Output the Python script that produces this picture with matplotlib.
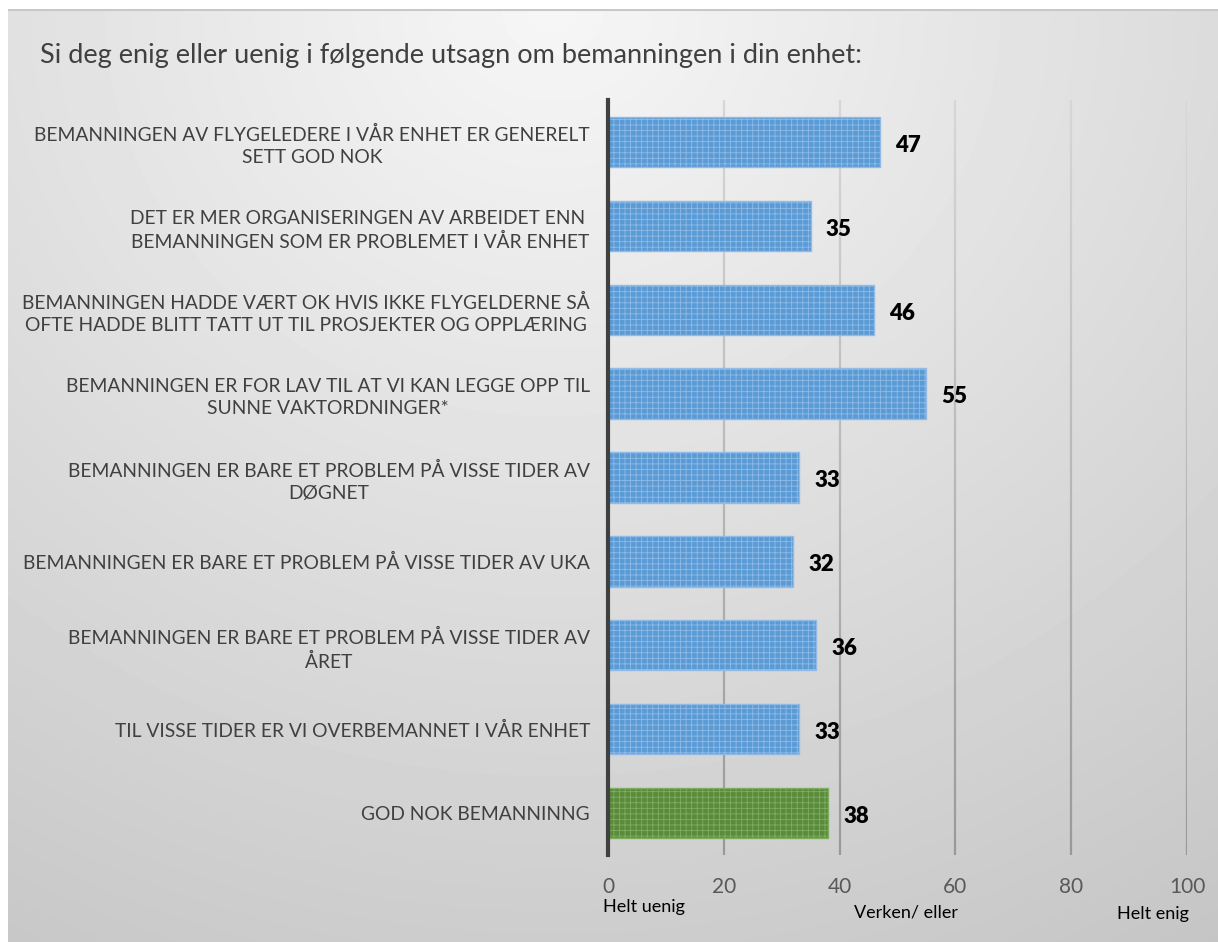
import numpy as np
import matplotlib
matplotlib.use("Agg")
import matplotlib.pyplot as plt
from matplotlib.collections import LineCollection

plt.rcParams['font.family'] = ['Lato', 'DejaVu Sans']
plt.rcParams['hatch.linewidth'] = 0.6

# Survey statements and average score (0 = helt uenig, 100 = helt enig)
statements = [
    "BEMANNINGEN AV FLYGELEDERE I VÅR ENHET ER GENERELT\nSETT GOD NOK",
    "DET ER MER ORGANISERINGEN AV ARBEIDET ENN \nBEMANNINGEN SOM ER PROBLEMET I VÅR ENHET",
    "BEMANNINGEN HADDE VÆRT OK HVIS IKKE FLYGELDERNE SÅ\nOFTE HADDE BLITT TATT UT TIL PROSJEKTER OG OPPLÆRING",
    "BEMANNINGEN ER FOR LAV TIL AT VI KAN LEGGE OPP TIL\nSUNNE VAKTORDNINGER*",
    "BEMANNINGEN ER BARE ET PROBLEM PÅ VISSE TIDER AV\nDØGNET",
    "BEMANNINGEN ER BARE ET PROBLEM PÅ VISSE TIDER AV UKA",
    "BEMANNINGEN ER BARE ET PROBLEM PÅ VISSE TIDER AV\nÅRET",
    "TIL VISSE TIDER ER VI OVERBEMANNET I VÅR ENHET",
    "GOD NOK BEMANNINNG",
]
scores = [47, 35, 46, 55, 33, 32, 36, 33, 38]
x_ticks = [0, 20, 40, 60, 80, 100]
scale_labels = ["Helt uenig", "Verken/ eller", "Helt enig"]

title = "Si deg enig eller uenig i følgende utsagn om bemanningen i din enhet:"

fig = plt.figure(figsize=(12.18, 9.42), dpi=100)
fig.patch.set_facecolor('white')

# grey gradient background panel
bg = fig.add_axes([8 / 1218, 0, 1 - 8 / 1218, 1 - 9 / 942])
bg.set_axis_off()
gx, gy = np.meshgrid(np.linspace(0, 1, 400), np.linspace(0, 1, 300))
dist = np.sqrt(((gx - 0.45) * 1.0) ** 2 + ((gy - 0.0) * 0.85) ** 2)
shade = 0.965 - 0.19 * dist
bg.imshow(shade, cmap='gray', vmin=0, vmax=1, aspect='auto',
          extent=[0, 1, 1, 0], interpolation='bicubic')
bg.set_xlim(0, 1)
bg.set_ylim(1, 0)
bg.plot([0, 1], [0.001, 0.001], color='#c8c8c8', lw=1.5)

ax = fig.add_axes([608 / 1218, 1 - 855 / 942, (1187 - 608) / 1218, (855 - 100) / 942])
ax.patch.set_alpha(0)

y = np.arange(len(statements))
colors = ['#5b9bd5'] * (len(scores) - 1) + ['#5a8a3c']
hatch_colors = ['#8fbbe6'] * (len(scores) - 1) + ['#7fae5e']
for yi, val, fc, hc in zip(y, scores, colors, hatch_colors):
    ax.barh(yi, val, height=0.6, color=fc, edgecolor=hc, hatch='+++',
            linewidth=1.0, zorder=3)
    ax.text(val + 2.6, yi + 0.04, str(val), va='center', ha='left',
            fontsize=16, fontweight='heavy', color='black', zorder=4)

ax.set_xlim(0, 100)
ax.set_ylim(len(statements) - 0.5, -0.5)
ax.set_yticks(y)
ax.set_yticklabels(statements, fontsize=13.9, color='#404040',
                   multialignment='center', linespacing=1.38)
ax.set_xticks(x_ticks)
ax.set_xticklabels([str(t) for t in x_ticks], fontsize=15, color='#595959')
ax.tick_params(axis='y', length=0, pad=13)
ax.tick_params(axis='x', length=0, pad=16)

for s in ['top', 'right', 'bottom']:
    ax.spines[s].set_visible(False)
ax.spines['left'].set_color('#404040')
ax.spines['left'].set_linewidth(3)
ax.spines['left'].set_zorder(5)

# vertical gridlines fading from light at the top to darker at the bottom
n_seg = 60
ys = np.linspace(-0.5, len(statements) - 0.5, n_seg + 1)
for t in x_ticks[1:]:
    segs = [[(t, ys[i]), (t, ys[i + 1])] for i in range(n_seg)]
    g = np.linspace(0.84, 0.60, n_seg)
    lc = LineCollection(segs, colors=[(v, v, v) for v in g], linewidths=1.6, zorder=1)
    ax.add_collection(lc)

# scale description under the tick labels
fig.text(603 / 1218, 1 - 907 / 942, scale_labels[0], ha='left', va='center',
         fontsize=13, color='black')
fig.text(906 / 1218, 1 - 912 / 942, scale_labels[1], ha='center', va='center',
         fontsize=13, color='black')
fig.text(1189 / 1218, 1 - 914 / 942, scale_labels[2], ha='right', va='center',
         fontsize=13, color='black')

fig.text(40 / 1218, 1 - 55 / 942, title, ha='left', va='center', fontsize=19.5, color='#404040')

fig.savefig('out.png', dpi=100, facecolor=fig.get_facecolor())
